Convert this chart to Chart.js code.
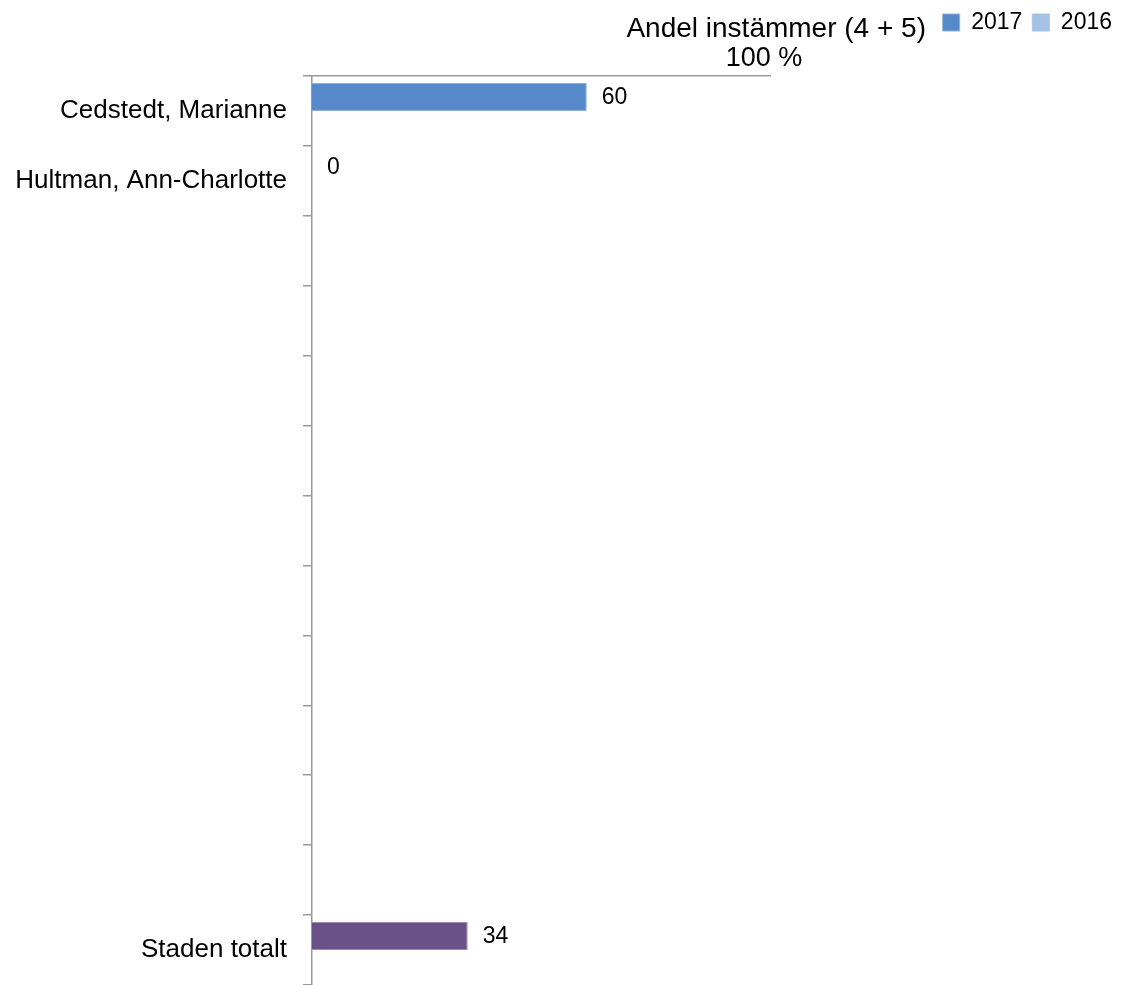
<!DOCTYPE html>
<html>
<head>
<meta charset="utf-8">
<script src="https://cdn.jsdelivr.net/npm/chart.js@4/dist/chart.umd.min.js"></script>
<style>
  html, body { margin: 0; padding: 0; background: #fff; }
  #wrap { width: 1128px; height: 985px; position: relative; }
</style>
</head>
<body>
<div id="wrap"><canvas id="chart"></canvas></div>
<script>
// categories, top to bottom (empty rows are unnamed units)
const categories = [
    'Cedstedt, Marianne', 'Hultman, Ann-Charlotte',
    '', '', '', '', '', '', '', '', '', '',
    'Staden totalt'
];
const values2017 = [60, 0, null, null, null, null, null, null, null, null, null, null, 34];
const values2016 = [null, null, null, null, null, null, null, null, null, null, null, null, null];
const colors2017 = ['#5689C9', '#5689C9', '#5689C9', '#5689C9', '#5689C9', '#5689C9', '#5689C9',
    '#5689C9', '#5689C9', '#5689C9', '#5689C9', '#5689C9', '#6A5188'];
const borders2017 = ['#8FB1DE', '#8FB1DE', '#8FB1DE', '#8FB1DE', '#8FB1DE', '#8FB1DE', '#8FB1DE',
    '#8FB1DE', '#8FB1DE', '#8FB1DE', '#8FB1DE', '#8FB1DE', '#9A8AB4'];
const xTicks = [0, 100];
const chartTitle = 'Andel instämmer (4 + 5)';

const FONT = "'Liberation Sans', Arial, sans-serif";

// title drawn left of the legend, on the same line
const titlePlugin = {
    id: 'inlineTitle',
    afterDraw: (chart) => {
        const ctx = chart.ctx;
        ctx.save();
        ctx.font = '28px ' + FONT;
        ctx.fillStyle = '#000';
        ctx.textAlign = 'right';
        ctx.textBaseline = 'alphabetic';
        ctx.fillText(chartTitle, 926, 37);
        ctx.restore();
    }
};

// value labels at the end of each bar
const valueLabels = {
    id: 'valueLabels',
    afterDatasetsDraw: (chart) => {
        const ctx = chart.ctx;
        ctx.save();
        ctx.font = '23px ' + FONT;
        ctx.fillStyle = '#000';
        ctx.textAlign = 'left';
        ctx.textBaseline = 'middle';
        chart.data.datasets.forEach((ds, i) => {
            const meta = chart.getDatasetMeta(i);
            meta.data.forEach((el, j) => {
                const v = ds.data[j];
                if (v === null || v === undefined) return;
                ctx.fillText(String(v), el.x + 15, el.y + 1);
            });
        });
        ctx.restore();
    }
};

new Chart(document.getElementById('chart'), {
    type: 'bar',
    data: {
        labels: categories,
        datasets: [{
            label: '2017',
            data: values2017,
            backgroundColor: (c) => colors2017[c.dataIndex] || '#5689C9',
            borderColor: (c) => borders2017[c.dataIndex] || '#5689C9',
            borderWidth: 1,
            categoryPercentage: 0.8,
            barPercentage: 1.0
        }, {
            label: '2016',
            data: values2016,
            backgroundColor: '#A5C3E7',
            borderColor: '#A5C3E7',
            borderWidth: 1,
            categoryPercentage: 0.8,
            barPercentage: 1.0
        }]
    },
    options: {
        indexAxis: 'y',
        responsive: true,
        maintainAspectRatio: false,
        animation: false,
        layout: { padding: { top: 1, right: 6, left: 0, bottom: 0 } },
        plugins: {
            tooltip: { enabled: false },
            title: { display: false },
            legend: {
                display: true,
                position: 'top',
                align: 'end',
                labels: {
                    color: '#000',
                    font: { family: FONT, size: 23 },
                    boxWidth: 17,
                    boxHeight: 17,
                    padding: 10
                }
            }
        },
        scales: {
            x: {
                position: 'top',
                min: xTicks[0],
                max: xTicks[1],
                afterBuildTicks: (s) => { s.ticks = xTicks.map(v => ({ value: v })); },
                grid: { display: false },
                border: { display: true, color: '#9A9A9A', width: 1.5 },
                ticks: {
                    color: '#000',
                    font: { family: FONT, size: 27 },
                    padding: -7,
                    labelOffset: -6,
                    maxRotation: 0,
                    callback: (v) => v === 100 ? '100 %' : ''
                },
                afterFit: (s) => {
                    const lg = s.chart.legend;
                    const used = (lg ? lg.height : 0) + 1;
                    s.height = 76 - used;
                }
            },
            y: {
                position: 'left',
                grid: {
                    display: true,
                    drawOnChartArea: false,
                    drawTicks: true,
                    tickLength: 9,
                    color: '#9A9A9A',
                    lineWidth: 1.5,
                    offset: true
                },
                border: { display: true, color: '#9A9A9A', width: 1.5 },
                ticks: {
                    color: '#000',
                    font: { family: FONT, size: 26 },
                    padding: 16,
                    autoSkip: false
                },
                afterFit: (s) => {
                    s.width = 312;
                    s.paddingTop = 0;
                    s.paddingBottom = 0;
                }
            },
            pad: {
                type: 'linear',
                position: 'right',
                display: true,
                grid: { display: false },
                border: { display: false },
                ticks: { display: false },
                afterFit: (s) => { s.width = 1128 - 6 - 770; }
            }
        }
    },
    plugins: [titlePlugin, valueLabels]
});
</script>
</body>
</html>
